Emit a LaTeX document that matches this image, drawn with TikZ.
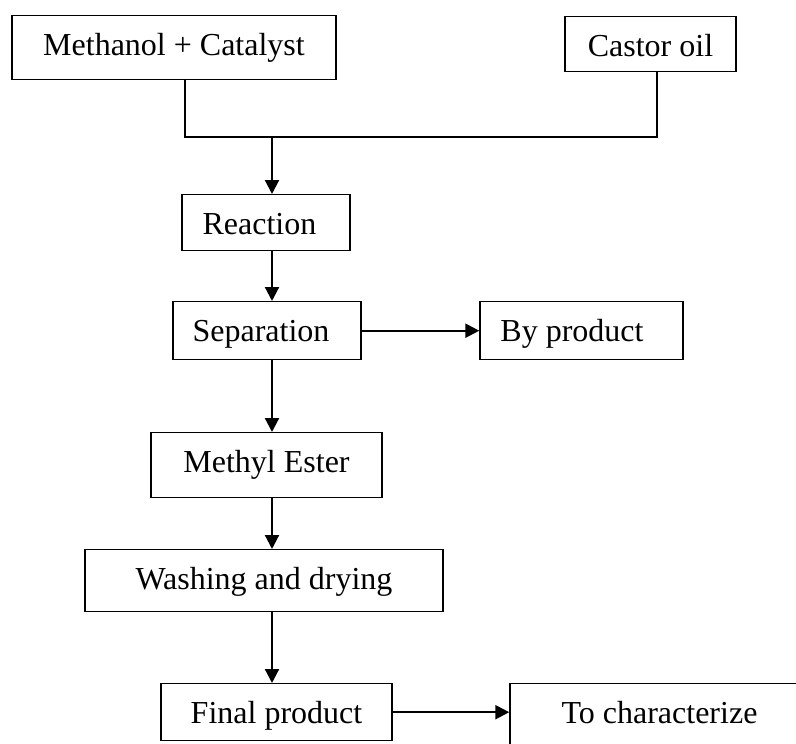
\documentclass[tikz,border=0pt]{standalone}
\usepackage{fontspec}
\setmainfont{Liberation Serif}
\usetikzlibrary{arrows.meta}
\begin{document}
\begin{tikzpicture}[x=1pt,y=-1pt,
  box/.style={draw,line width=1.4pt,inner sep=0pt,anchor=north,text height=40pt,font=\fontsize{32pt}{38pt}\selectfont},
  conn/.style={line width=2.2pt},
  arr/.style={line width=2.2pt,-{Triangle[length=14pt,width=14pt]}}]
\useasboundingbox (0,0) rectangle (796,744);
\clip (0,0) rectangle (796,744);
\node[box,minimum width=324pt,text depth=24pt] (meth) at (174,15) {Methanol + Catalyst};
\node[box,minimum width=171pt,text depth=15pt] (castor) at (650.5,16) {Castor oil};
\node[box,minimum width=168pt,text depth=16pt] (react) at (266,194) {Reaction\hspace{13pt}\mbox{}};
\node[box,minimum width=188pt,text depth=18pt] (sep) at (267,301) {Separation\hspace{12pt}\mbox{}};
\node[box,minimum width=203pt,text depth=18pt] (byp) at (581.5,301) {By product\hspace{19pt}\mbox{}};
\node[box,minimum width=231pt,text depth=25pt] (ester) at (266.5,432) {Methyl Ester};
\node[box,minimum width=358pt,text depth=22pt] (wash) at (264,549) {Washing and drying};
\node[box,minimum width=231pt,text depth=17pt] (final) at (276.5,683) {Final product};
\node[box,minimum width=299pt,text depth=27pt] (tochar) at (659.5,683) {To characterize};
\coordinate (j) at (272,137);
\draw[conn] ([xshift=11pt]meth.south) |- (j);
\draw[conn] ([xshift=6.5pt]castor.south) |- (j);
\draw[arr] (j) -- (j |- react.north);
\draw[arr] (j |- react.south) -- (j |- sep.north);
\draw[arr] (sep.east) -- (byp.west);
\draw[arr] (j |- sep.south) -- (j |- ester.north);
\draw[arr] (j |- ester.south) -- (j |- wash.north);
\draw[arr] (j |- wash.south) -- (j |- final.north);
\draw[arr] (final.east) -- (final.east -| tochar.west);
\end{tikzpicture}
\end{document}
